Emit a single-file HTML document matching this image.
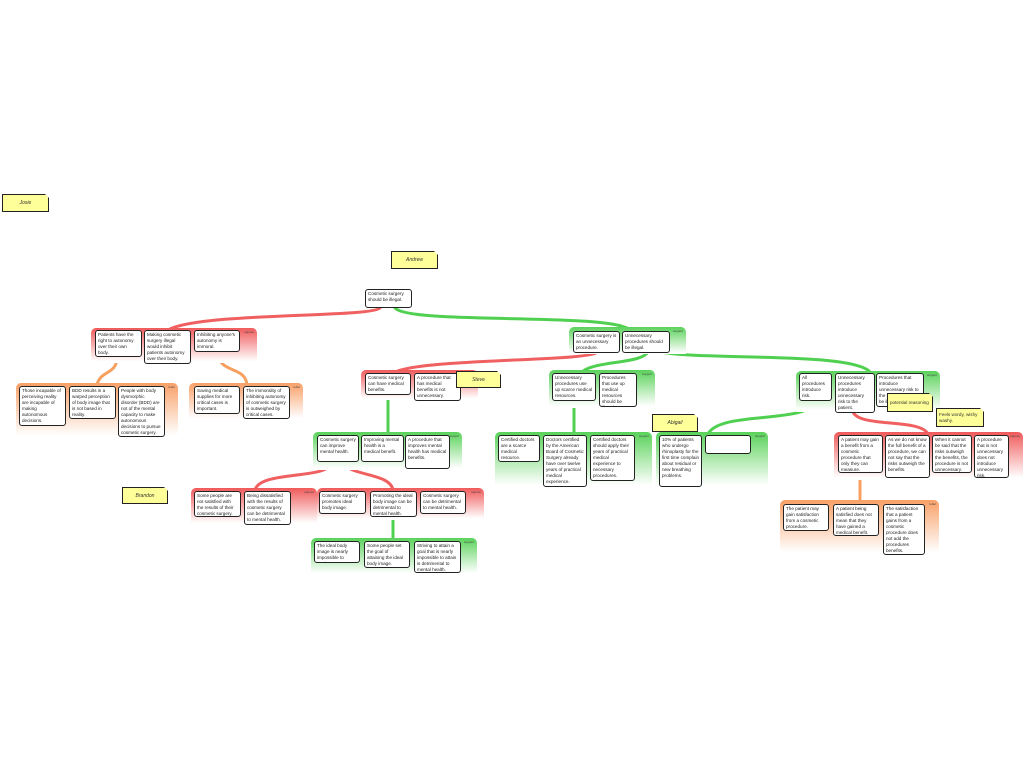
<!DOCTYPE html>
<html><head><meta charset="utf-8"><style>
body{margin:0;width:1024px;height:768px;background:#fff;position:relative;overflow:hidden;font-family:"Liberation Sans",sans-serif}
.g{position:absolute;border-radius:5px 5px 0 0}
.r{background:linear-gradient(#f05a5a,#fff 95%)}
.gr{background:linear-gradient(#5ad25a,#fff 95%)}
.o{background:linear-gradient(#f8a068,#fff 95%)}
.g span{position:absolute;right:3px;top:2px;font-size:3px;color:#444}
.b{position:absolute;background:#fff;border:1.3px solid #222;border-radius:3px;box-sizing:border-box;font-size:4.6px;line-height:6px;padding:1px 2px;color:#222;overflow:hidden}
.n{position:absolute;background:#ffff99;border:1px solid #222;box-shadow:1px 1px 0 #333;box-sizing:border-box;font-size:5px;color:#333;display:flex;align-items:center;justify-content:center;font-style:italic;text-align:left;clip-path:polygon(0 0,calc(100% - 4px) 0,100% 4px,100% 100%,0 100%)}
svg{position:absolute;left:0;top:0}
</style></head><body>
<svg width="1024" height="768" fill="none" stroke-linecap="round">
<path d="M380 308 C370 318 200 312 168 330" stroke="#f06060" stroke-width="3"/>
<path d="M395 308 C410 325 610 312 630 330" stroke="#50d050" stroke-width="3"/>
<path d="M598 352 C590 362 410 358 392 374" stroke="#f06060" stroke-width="3"/>
<path d="M648 352 C640 365 590 360 580 374" stroke="#50d050" stroke-width="3"/>
<path d="M655 350 C680 362 850 350 870 372" stroke="#50d050" stroke-width="3"/>
<path d="M388 394 L388 434" stroke="#50d050" stroke-width="3"/>
<path d="M574 400 L574 434" stroke="#50d050" stroke-width="3"/>
<path d="M817 400 C810 425 720 410 708 434" stroke="#50d050" stroke-width="3"/>
<path d="M853 412 C860 428 920 418 928 434" stroke="#f06060" stroke-width="3"/>
<path d="M117 357 C117 375 100 370 97 385" stroke="#f8a060" stroke-width="3"/>
<path d="M217 352 C220 375 245 365 247 385" stroke="#f8a060" stroke-width="3"/>
<path d="M332 462 C330 480 260 470 255 490" stroke="#f06060" stroke-width="3"/>
<path d="M345 462 C345 476 390 472 393 490" stroke="#f06060" stroke-width="3"/>
<path d="M393 517 L393 540" stroke="#50d050" stroke-width="3"/>
<path d="M860 473 L860 503" stroke="#f8a060" stroke-width="3"/>
</svg>

<div class="g r" style="left:91px;top:328px;width:166px;height:35px"><span>oppose</span></div>
<div class="g o" style="left:16px;top:383px;width:162px;height:55px"><span>rebut</span></div>
<div class="g o" style="left:189px;top:383px;width:114px;height:37px"><span>rebut</span></div>
<div class="g gr" style="left:569px;top:327px;width:117px;height:27px"><span>support</span></div>
<div class="g r" style="left:361px;top:370px;width:117px;height:30px"><span>oppose</span></div>
<div class="g gr" style="left:549px;top:370px;width:106px;height:38px"><span>support</span></div>
<div class="g gr" style="left:796px;top:371px;width:144px;height:41px"><span>support</span></div>
<div class="g gr" style="left:313px;top:432px;width:149px;height:38px"><span>support</span></div>
<div class="g gr" style="left:495px;top:432px;width:157px;height:56px"><span>support</span></div>
<div class="g gr" style="left:656px;top:432px;width:112px;height:56px"><span>support</span></div>
<div class="g r" style="left:834px;top:432px;width:189px;height:48px"><span>oppose</span></div>
<div class="g r" style="left:191px;top:488px;width:126px;height:37px"><span>oppose</span></div>
<div class="g r" style="left:317px;top:488px;width:167px;height:32px"><span>oppose</span></div>
<div class="g gr" style="left:311px;top:538px;width:166px;height:37px"><span>support</span></div>
<div class="g o" style="left:780px;top:500px;width:159px;height:55px"><span>rebut</span></div>

<div class="b" style="left:365px;top:289px;width:47px;height:19px">Cosmetic surgery should be illegal.</div>
<div class="b" style="left:95px;top:330px;width:47px;height:27px">Patients have the right to autonomy over their own body.</div>
<div class="b" style="left:144px;top:330px;width:47px;height:34px">Making cosmetic surgery illegal would inhibit patients autonomy over their body.</div>
<div class="b" style="left:194px;top:330px;width:46px;height:22px">Inhibiting anyone's autonomy is immoral.</div>
<div class="b" style="left:19px;top:386px;width:47px;height:40px">Those incapable of perceiving reality are incapable of making autonomous decisions.</div>
<div class="b" style="left:69px;top:386px;width:47px;height:33px">BDD results in a warped perception of body image that is not based in reality.</div>
<div class="b" style="left:118px;top:386px;width:47px;height:51px">People with body dysmorphic disorder (BDD) are not of the mental capacity to make autonomous decisions to pursue cosmetic surgery.</div>
<div class="b" style="left:194px;top:386px;width:46px;height:28px">Saving medical supplies for more critical cases is important.</div>
<div class="b" style="left:243px;top:386px;width:47px;height:33px">The immorality of inhibiting autonomy of cosmetic surgery is outweighed by critical cases.</div>
<div class="b" style="left:573px;top:331px;width:47px;height:22px">Cosmetic surgery is an unnecessary procedure.</div>
<div class="b" style="left:622px;top:331px;width:48px;height:22px">Unnecessary procedures should be illegal.</div>
<div class="b" style="left:365px;top:373px;width:46px;height:22px">Cosmetic surgery can have medical benefits.</div>
<div class="b" style="left:414px;top:373px;width:47px;height:28px">A procedure that has medical benefits is not unnecessary.</div>
<div class="b" style="left:552px;top:373px;width:44px;height:28px">Unnecessary procedures use up scarce medical resources.</div>
<div class="b" style="left:599px;top:373px;width:38px;height:34px">Procedures that use up medical resources should be illegal.</div>
<div class="b" style="left:799px;top:373px;width:33px;height:28px">All procedures introduce risk.</div>
<div class="b" style="left:835px;top:373px;width:40px;height:40px">Unnecessary procedures introduce unnecessary risk to the patient.</div>
<div class="b" style="left:876px;top:373px;width:48px;height:34px">Procedures that introduce unnecessary risk to the patient should be illegal.</div>
<div class="b" style="left:317px;top:435px;width:42px;height:27px">Cosmetic surgery can improve mental health.</div>
<div class="b" style="left:361px;top:435px;width:43px;height:27px">Improving mental health is a medical benefit.</div>
<div class="b" style="left:405px;top:435px;width:45px;height:34px">A procedure that improves mental health has medical benefits.</div>
<div class="b" style="left:498px;top:435px;width:42px;height:27px">Certified doctors are a scarce medical resource.</div>
<div class="b" style="left:543px;top:435px;width:44px;height:52px">Doctors certified by the American Board of Cosmetic Surgery already have over twelve years of practical medical experience.</div>
<div class="b" style="left:590px;top:435px;width:45px;height:46px">Certified doctors should apply their years of practical medical experience to necessary procedures.</div>
<div class="b" style="left:659px;top:435px;width:43px;height:52px">10% of patients who undergo rhinoplasty for the first time complain about residual or new breathing problems.</div>
<div class="b" style="left:705px;top:435px;width:46px;height:19px"></div>
<div class="b" style="left:838px;top:435px;width:45px;height:38px">A patient may gain a benefit from a cosmetic procedure that only they can measure.</div>
<div class="b" style="left:885px;top:435px;width:45px;height:43px">As we do not know the full benefit of a procedure, we can not say that the risks outweigh the benefits.</div>
<div class="b" style="left:932px;top:435px;width:40px;height:38px">When it cannot be said that the risks outweigh the benefits, the procedure is not unnecessary.</div>
<div class="b" style="left:974px;top:435px;width:35px;height:43px">A procedure that is not unnecessary does not introduce unnecessary risk.</div>
<div class="b" style="left:194px;top:491px;width:47px;height:26px">Some people are not satisfied with the results of their cosmetic surgery.</div>
<div class="b" style="left:244px;top:491px;width:47px;height:34px">Being dissatisfied with the results of cosmetic surgery can be detrimental to mental health.</div>
<div class="b" style="left:319px;top:491px;width:47px;height:23px">Cosmetic surgery promotes ideal body image.</div>
<div class="b" style="left:370px;top:491px;width:47px;height:26px">Promoting the ideal body image can be detrimental to mental health.</div>
<div class="b" style="left:420px;top:491px;width:46px;height:23px">Cosmetic surgery can be detrimental to mental health.</div>
<div class="b" style="left:314px;top:541px;width:46px;height:22px">The ideal body image is nearly impossible to attain.</div>
<div class="b" style="left:364px;top:541px;width:46px;height:27px">Some people set the goal of attaining the ideal body image.</div>
<div class="b" style="left:414px;top:541px;width:47px;height:32px">Striving to attain a goal that is nearly impossible to attain is detrimental to mental health.</div>
<div class="b" style="left:783px;top:504px;width:46px;height:27px">The patient may gain satisfaction from a cosmetic procedure.</div>
<div class="b" style="left:833px;top:504px;width:46px;height:32px">A patient being satisfied does not mean that they have gained a medical benefit.</div>
<div class="b" style="left:883px;top:504px;width:42px;height:51px">The satisfaction that a patient gains from a cosmetic procedure does not add the procedures benefits.</div>

<div class="n" style="left:2px;top:194px;width:47px;height:18px">Josie</div>
<div class="n" style="left:391px;top:251px;width:47px;height:18px">Andrew</div>
<div class="n" style="left:456px;top:371px;width:45px;height:17px">Steve</div>
<div class="n" style="left:652px;top:414px;width:46px;height:18px">Abigail</div>
<div class="n" style="left:122px;top:487px;width:46px;height:17px">Brandon</div>
<div class="n" style="left:887px;top:393px;width:46px;height:19px;justify-content:flex-start;padding-left:2px;font-style:normal;font-size:4.6px;line-height:6px">potential reasoning</div>
<div class="n" style="left:936px;top:408px;width:48px;height:19px;justify-content:flex-start;padding-left:2px;font-style:normal;font-size:4.6px;line-height:6px">Feels wordy, wishy washy.</div>
</body></html>
